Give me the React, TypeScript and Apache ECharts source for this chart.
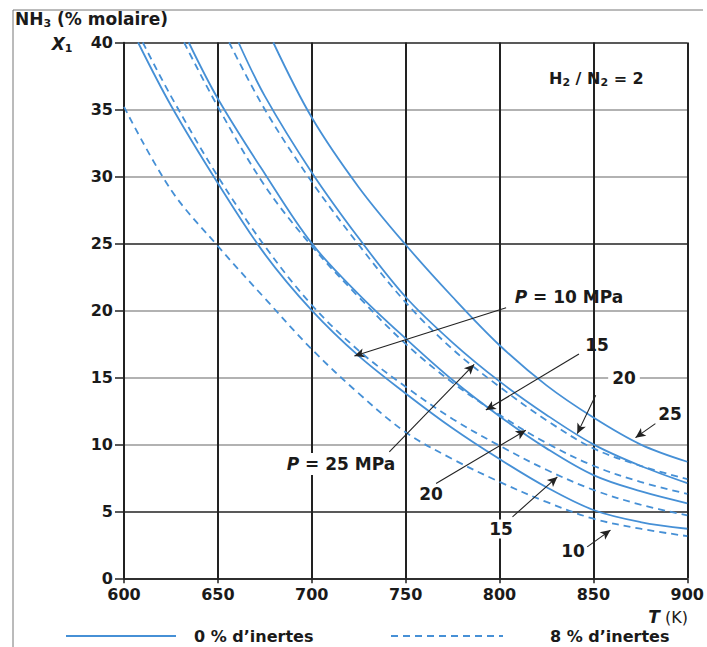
import React, { useEffect, useRef } from 'react';
import * as echarts from 'echarts';

// Temperature T (K) vs NH3 mole fraction X1 (%) — [T, X] pairs
const solid10 = [[607.5, 40], [625, 35.3], [650, 29.5], [675, 24.2], [700, 20], [725, 16.6], [750, 13.8], [775, 11.2], [800, 8.9], [825, 6.8], [850, 5.1], [875, 4.2], [900, 3.7]];
const solid15 = [[634.5, 40], [650, 35.8], [675, 30.2], [700, 25.0], [725, 21.2], [750, 17.9], [775, 14.8], [800, 12.1], [825, 9.7], [850, 7.7], [875, 6.5], [900, 5.6]];
const solid20 = [[661, 40], [675, 36.0], [700, 30.3], [725, 25.4], [750, 21.0], [775, 17.6], [800, 14.7], [825, 12.2], [850, 10.0], [875, 8.4], [900, 7.1]];
const solid25 = [[679.5, 40], [700, 34.4], [725, 29.2], [750, 24.9], [775, 21.0], [800, 17.4], [825, 14.4], [850, 12.0], [875, 10.0], [900, 8.7]];
const dashed10 = [[600, 35.2], [625, 29.0], [650, 24.8], [675, 20.9], [700, 17.1], [725, 13.8], [750, 10.9], [775, 8.9], [800, 7.2], [825, 5.7], [850, 4.45], [875, 3.7], [900, 3.15]];
const dashed15 = [[610, 40], [625, 36.0], [650, 30.0], [675, 24.8], [700, 20.4], [725, 17.0], [750, 14.3], [775, 11.9], [800, 9.9], [825, 8.1], [850, 6.6], [875, 5.5], [900, 4.7]];
const dashed20 = [[632, 40], [650, 35.2], [675, 29.3], [700, 24.8], [725, 21.0], [750, 17.5], [775, 14.6], [800, 12.2], [825, 10.1], [850, 8.4], [875, 7.2], [900, 6.3]];
const dashed25 = [[656, 40], [675, 35.0], [700, 29.6], [725, 24.9], [750, 20.6], [775, 17.1], [800, 14.3], [825, 11.8], [850, 9.7], [875, 8.4], [900, 7.4]];

const SOLID_NAME = '0 % d’inertes';
const DASHED_NAME = '8 % d’inertes';

// Annotation arrows (data coordinates): tail -> head
const arrowFrom = [[803.5, 20.2], [842.3, 16.75], [851.2, 13.66], [883, 11.55], [741.3, 9.43], [766.2, 7.08], [806.9, 4.59], [846.7, 2.35]];
const arrowTo = [[722.7, 16.6], [792.7, 12.56], [841.4, 10.8], [872.4, 10.5], [786.5, 15.97], [814, 11.05], [830.8, 7.57], [859.1, 3.6]];

const xMin = 600, xMax = 900, xStep = 50;
const yMin = 0, yMax = 40, yStep = 5;

const BLUE = '#4690d6';
const FONT = 'DejaVu Sans';
const INK = '#1a1a1a';

export default function App() {
  const ref = useRef<HTMLDivElement>(null);

  useEffect(() => {
    if (!ref.current) return;
    const chart = echarts.init(ref.current, null, { renderer: 'svg' });

    const mk = (name: string, data: number[][], dashed: boolean, extra: any = {}) => ({
      type: 'line',
      name,
      data,
      smooth: 0.35,
      symbol: 'none',
      showSymbol: false,
      clip: true,
      lineStyle: { color: BLUE, width: 1.8, type: dashed ? [7, 5] : 'solid' },
      itemStyle: { color: BLUE },
      emphasis: { disabled: true },
      z: 3,
      ...extra,
    });

    const arrows = arrowFrom.map((p, i) => [{ coord: p }, { coord: arrowTo[i] }]);

    const hColors = ['#222', '#222', '#999', '#999', '#999', '#222', '#999', '#999', '#222'];

    const txt = (text: string, x: number, y: number, extra: any = {}) => ({
      type: 'text',
      x,
      y,
      z: 100,
      style: {
        text,
        fontFamily: FONT,
        fontSize: 16,
        fontWeight: 'bold',
        fill: INK,
        align: 'center',
        verticalAlign: 'middle',
        ...extra,
      },
    });

    const rich = {
      m: { fontFamily: FONT, fontSize: 17, fontWeight: 'bold', color: INK, lineHeight: 20, verticalAlign: 'middle' },
      n: { fontFamily: FONT, fontSize: 16, fontWeight: 'normal', color: INK, lineHeight: 20, verticalAlign: 'middle' },
      b: { fontFamily: FONT, fontSize: 16, fontWeight: 'bold', color: '#333', lineHeight: 20, verticalAlign: 'middle' },
      i: { fontFamily: FONT, fontSize: 17, fontWeight: 'bold', fontStyle: 'italic', color: INK, lineHeight: 20, verticalAlign: 'middle' },
      s: { fontFamily: FONT, fontSize: 11, fontWeight: 'bold', color: INK, lineHeight: 12, verticalAlign: 'bottom' },
    };

    const legendBase = {
      itemWidth: 110,
      itemHeight: 4,
      padding: 0,
      top: 628,
      selectedMode: false,
      itemStyle: { color: 'rgba(0,0,0,0)', borderWidth: 0, opacity: 0 },
      textStyle: { fontFamily: FONT, fontSize: 16, fontWeight: 'bold', color: INK, lineHeight: 16 },
    };

    const option: any = {
      animation: false,
      backgroundColor: '#fff',
      grid: { left: 124, right: 18.5, top: 42.5, bottom: 68.7, containLabel: false },
      xAxis: {
        type: 'value',
        min: xMin,
        max: xMax,
        interval: xStep,
        axisLine: { show: true, lineStyle: { color: '#222', width: 1.5 } },
        axisTick: { show: true, length: 5, lineStyle: { color: '#222', width: 1.5 } },
        axisLabel: { margin: 8, fontFamily: FONT, fontSize: 16, fontWeight: 'bold', color: INK, lineHeight: 16 },
        splitLine: { show: true, lineStyle: { color: '#222', width: 2 } },
      },
      yAxis: {
        type: 'value',
        min: yMin,
        max: yMax,
        interval: yStep,
        axisLine: { show: true, lineStyle: { color: '#222', width: 1.5 } },
        axisTick: { show: true, length: 9, lineStyle: { color: '#222', width: 1.5 } },
        axisLabel: { margin: 11, fontFamily: FONT, fontSize: 16, fontWeight: 'bold', color: INK, lineHeight: 13 },
        splitLine: { show: true, lineStyle: { color: hColors, width: 1.5 } },
      },
      legend: [
        {
          ...legendBase,
          data: [SOLID_NAME],
          left: 65,
          textStyle: { ...legendBase.textStyle, padding: [0, 0, 0, 13] },
        },
        {
          ...legendBase,
          data: [DASHED_NAME],
          left: 390,
          itemWidth: 112,
          textStyle: { ...legendBase.textStyle, padding: [0, 0, 0, 42] },
        },
      ],
      series: [
        mk(SOLID_NAME, solid25, false, {
          markLine: {
            silent: true,
            symbol: ['none', 'arrow'],
            symbolSize: [7, 10],
            label: { show: false },
            emphasis: { disabled: true },
            lineStyle: { color: '#222', width: 1.1, type: 'solid' },
            data: arrows,
          },
        }),
        mk(SOLID_NAME, solid20, false),
        mk(SOLID_NAME, solid15, false),
        mk(SOLID_NAME, solid10, false),
        mk(DASHED_NAME, dashed25, true),
        mk(DASHED_NAME, dashed20, true),
        mk(DASHED_NAME, dashed15, true),
        mk(DASHED_NAME, dashed10, true),
      ],
      graphic: [
        { type: 'polyline', z: 0, shape: { points: [[13, 647], [13, 10], [703, 10]] }, style: { stroke: '#777', fill: 'none', lineWidth: 1 } },
        txt('{m|NH}{s|3}{m| (% molaire)}', 15, 19, { align: 'left', rich }),
        txt('{i|X}{s|1}', 62, 44, { rich }),
        txt('{b|H}{s|2}{b| / N}{s|2}{b| = 2}', 549, 78, { align: 'left', rich }),
        txt('{i|P}{m| = 10 MPa}', 569, 297, { rich }),
        txt('15', 597, 345, { fontSize: 17 }),
        txt('20', 624, 378, { fontSize: 17, backgroundColor: '#fff', padding: [1, 4] }),
        txt('25', 670, 414, { fontSize: 17 }),
        txt('{i|P}{m| = 25 MPa}', 341, 464, { rich, backgroundColor: '#fff', padding: [1, 2] }),
        txt('20', 431, 494, { fontSize: 17 }),
        txt('15', 501, 529, { fontSize: 17, backgroundColor: '#fff', padding: [1, 2] }),
        txt('10', 573, 551, { fontSize: 17 }),
        txt('{i|T}{n| (K)}', 688, 617, { align: 'right', rich }),
      ],
    };

    chart.setOption(option);
    return () => chart.dispose();
  }, []);

  return <div ref={ref} style={{ position: 'fixed', left: 0, top: 0, width: 707, height: 647 }} />;
}
